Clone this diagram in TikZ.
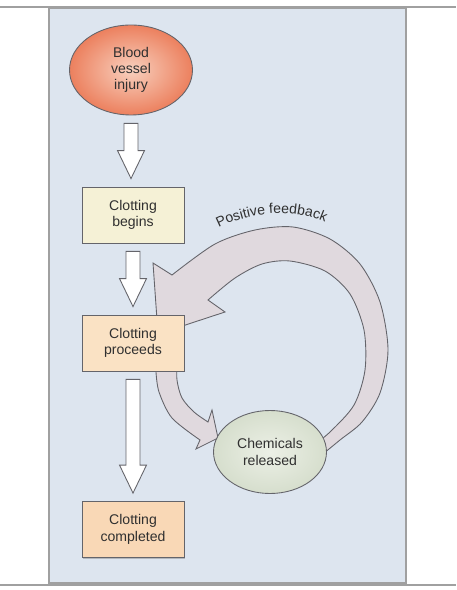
\documentclass[tikz,border=0pt]{standalone}
\usepackage{fontspec}
\setmainfont{Liberation Sans}
\usepackage{xcolor}
\usepackage{tikz}
\usetikzlibrary{positioning, calc, shapes.geometric, decorations.text, shadows}

\definecolor{panelblue}{RGB}{221,229,239}
\definecolor{framegray}{RGB}{160,160,160}
\definecolor{loopgray}{RGB}{224,217,222}
\definecolor{edgegray}{RGB}{100,100,106}
\definecolor{textgray}{RGB}{48,48,48}
\definecolor{injuryin}{RGB}{248,208,190}
\definecolor{injuryout}{RGB}{236,128,94}
\definecolor{chemin}{RGB}{236,240,230}
\definecolor{chemout}{RGB}{214,222,205}
\definecolor{beginfill}{RGB}{245,241,214}
\definecolor{proceedfill}{RGB}{250,226,196}
\definecolor{donefill}{RGB}{249,216,182}

\begin{document}
\begin{tikzpicture}[x=0.02cm, y=-0.02cm,
  every node/.style={font=\fontsize{8}{9.3}\selectfont, text=textgray, align=center},
  stage/.style={draw=edgegray, line width=0.5pt, minimum width=2.04cm,
    minimum height=1.12cm, inner sep=1pt,
    drop shadow={shadow xshift=0.4pt, shadow yshift=-0.8pt, opacity=0.45}},
  blob/.style={ellipse, draw=edgegray, line width=0.5pt, inner sep=0pt}]
  \def\hollow#1#2{
    \coordinate (t) at ($(#1.south)+(0,8)$);
    \coordinate (h0) at (t |- #2.north);
    \coordinate (h) at ($(h0)+(0,-8)$);
    \draw[edgegray, fill=white, line width=0.5pt]
      ($(t)+(-7,0)$) -- ($(t)+(7,0)$) -- ($(h)+(7,-28)$) -- ($(h)+(13.5,-28)$)
      -- (h) -- ($(h)+(-13.5,-28)$) -- ($(h)+(-7,-28)$) -- cycle;
  }
  \useasboundingbox (0,0) rectangle (456,590);
  % frame and panel
  \fill[panelblue] (49,8) rectangle (406,583);
  \draw[framegray, line width=0.8pt] (49,8) rectangle (406,583);
  \draw[framegray, line width=1.2pt] (0,7) -- (456,7);
  \draw[framegray, line width=1.6pt] (0,585) -- (456,585);

  % feedback loop
  \draw[edgegray, fill=loopgray, line width=0.5pt]
    plot[smooth] coordinates {(318,458) (340,440) (362,422) (380,393) (388,350)
      (380,302) (360,264) (330,239) (293,227) (255,230) (215,244) (172,275)}
    -- (153,263) -- (158,334) -- (225,312) -- (208,300)
    -- plot[smooth] coordinates {(208,300) (235,278) (262,264) (290,261) (325,271)
      (350,294) (364,330) (365,370) (354,405) (330,432) (310,448)} -- cycle;
  \draw[edgegray, fill=loopgray, line width=0.5pt]
    (156,360) -- plot[smooth] coordinates {(156,372) (159,392) (172,418) (200,440)}
    -- (196,449) -- (218,438) -- (212,410) -- (208,422)
    -- plot[smooth] coordinates {(208,422) (194,412) (182,398) (177,380) (177,360)}
    -- cycle;
  \path[decorate, decoration={text along path, text align=center,
      text={|\fontsize{8}{9}\selectfont\color{textgray}|Positive feedback}}]
    (206,235) .. controls (245,210) and (300,205) .. (338,229);

  % stages
  \node[blob, minimum width=2.46cm, minimum height=1.8cm,
    inner color=injuryin, outer color=injuryout] (injury) at (131,70) {Blood\\vessel\\injury};
  \node[stage, fill=beginfill] (begins) at (133,215) {Clotting\\begins};
  \node[stage, fill=proceedfill] (proceeds) at (133,343) {Clotting\\proceeds};
  \node[stage, fill=donefill] (completed) at (133,529.5) {Clotting\\completed};
  \node[blob, minimum width=2.26cm, minimum height=1.66cm,
    inner color=chemin, outer color=chemout] (chemicals) at (270,452) {Chemicals\\released};

  \hollow{injury}{begins}
  \hollow{begins}{proceeds}
  \hollow{proceeds}{completed}
\end{tikzpicture}
\end{document}
